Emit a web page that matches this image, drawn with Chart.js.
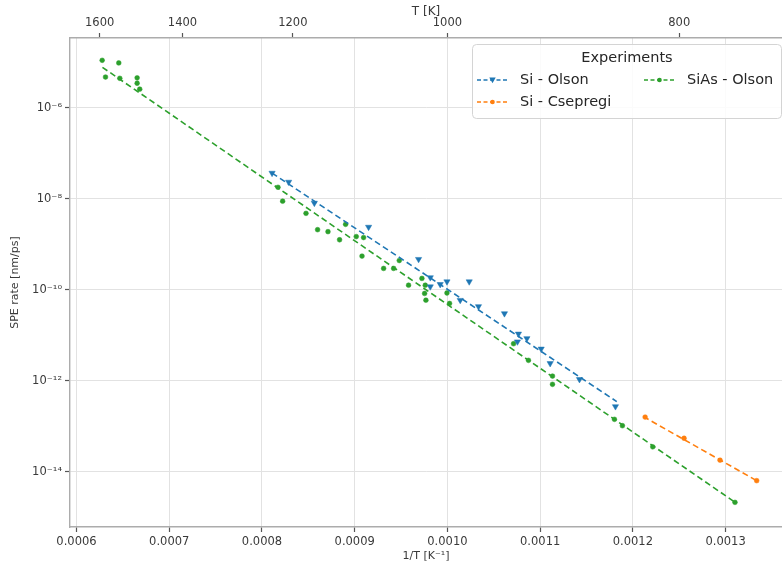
<!DOCTYPE html>
<html>
<head>
<meta charset="utf-8">
<script src="https://cdn.jsdelivr.net/npm/chart.js@4.4.0/dist/chart.umd.min.js"></script>
<style>
  html, body { margin: 0; padding: 0; background: #fff; }
</style>
</head>
<body>
<canvas id="speChart" width="782" height="568"></canvas>
<script>
// Values: x = 1/T [1/K], y = SPE rate [nm/ps]
const siOlsonX = [0.0008109, 0.0008288, 0.0008565, 0.0009150, 0.0009689, 0.0009815, 0.0009815,
                  0.0009922, 0.0009995, 0.0010235, 0.0010138, 0.0010335, 0.0010615, 0.0010766,
                  0.0010857, 0.0010755, 0.0011011, 0.0011108, 0.0011424, 0.0011812];
const siOlsonY = [3.7e-8, 2.35e-8, 8.1e-9, 2.4e-9, 4.7e-10, 1.86e-10, 1.17e-10,
                  1.32e-10, 1.51e-10, 1.51e-10, 5.9e-11, 4.3e-11, 3.0e-11, 1.07e-11,
                  8.5e-12, 7.2e-12, 5.0e-12, 2.4e-12, 1.07e-12, 2.7e-13];

const siCsepregiX = [0.0012132, 0.0012552, 0.0012940, 0.0013335];
const siCsepregiY = [1.58e-13, 5.4e-14, 1.78e-14, 6.3e-15];

const siAsOlsonX = [0.0006277, 0.0006456, 0.0006313, 0.0006467, 0.0006654, 0.0006654, 0.0006682,
                    0.0008173, 0.0008223, 0.0008475, 0.0008600, 0.0008712, 0.0008837, 0.0008902,
                    0.0009017, 0.0009096, 0.0009079, 0.0009312, 0.0009420, 0.0009481, 0.0009581,
                    0.0009725, 0.0009761, 0.0009754, 0.0009768, 0.0009995, 0.0010023, 0.0010713,
                    0.0010874, 0.0011133, 0.0011133, 0.0011801, 0.0011887, 0.0012214, 0.0013101];
const siAsOlsonY = [1.12e-5, 9.8e-6, 4.8e-6, 4.5e-6, 4.6e-6, 3.5e-6, 2.6e-6,
                    1.8e-8, 8.9e-9, 4.8e-9, 2.1e-9, 1.9e-9, 1.26e-9, 2.75e-9,
                    1.48e-9, 1.41e-9, 5.5e-10, 2.95e-10, 2.95e-10, 4.4e-10, 1.26e-10,
                    1.78e-10, 1.26e-10, 8.3e-11, 5.9e-11, 8.5e-11, 5.0e-11, 6.5e-12,
                    2.8e-12, 1.26e-12, 8.3e-13, 1.41e-13, 1.02e-13, 3.5e-14, 2.1e-15];

// Arrhenius fit lines (end points)
const siOlsonFitX = [0.0008109, 0.0011826];
const siOlsonFitY = [3.7e-8, 3.47e-13];
const siCsepregiFitX = [0.0012113, 0.0013335];
const siCsepregiFitY = [1.62e-13, 6.3e-15];
const siAsOlsonFitX = [0.000628, 0.0013112];
const siAsOlsonFitY = [7.85e-6, 2.04e-15];

const bottomTicks = [0.0006, 0.0007, 0.0008, 0.0009, 0.0010, 0.0011, 0.0012, 0.0013];
const topTickTemps = [1600, 1400, 1200, 1000, 800];
const yTickExponents = [-6, -8, -10, -12, -14];

const BLUE = '#1f77b4', ORANGE = '#ff7f0e', GREEN = '#2ca02c';
const X_MIN = 0.000593, X_MAX = 0.0013608;
const Y_MIN = Math.pow(10, -15.22), Y_MAX = Math.pow(10, -4.46);

const SUP = {'-': '\u207B', '0': '\u2070', '1': '\u00B9', '2': '\u00B2', '3': '\u00B3',
             '4': '\u2074', '5': '\u2075', '6': '\u2076', '7': '\u2077', '8': '\u2078', '9': '\u2079'};
const sup = n => String(n).split('').map(c => SUP[c]).join('');
const toPoints = (xs, ys) => xs.map((x, i) => ({x: x, y: ys[i]}));

Chart.defaults.font.family = "'DejaVu Sans', sans-serif";
Chart.defaults.color = '#3a3a3a';

const tickFont = {size: 11.5};
const dash = [6, 3.5];

function scatterSet(label, xs, ys, color, style, radius) {
    return {
        label: label,
        data: toPoints(xs, ys),
        showLine: false,
        pointStyle: style,
        rotation: style === 'triangle' ? 180 : 0,
        pointRadius: radius,
        pointBackgroundColor: color,
        pointBorderColor: color,
        pointBorderWidth: 0.5
    };
}

function fitSet(label, xs, ys, color) {
    return {
        label: label,
        data: toPoints(xs, ys),
        showLine: true,
        borderColor: color,
        borderWidth: 1.6,
        borderDash: dash,
        pointRadius: 0,
        fill: false
    };
}

// Legend drawn in a box, two columns like the original
const legendEntries = [
    {label: 'Si - Olson', color: BLUE, style: 'triangle', col: 0, row: 0},
    {label: 'Si - Csepregi', color: ORANGE, style: 'circle', col: 0, row: 1},
    {label: 'SiAs - Olson', color: GREEN, style: 'circle', col: 1, row: 0}
];

const legendBox = {
    id: 'legendBox',
    afterDraw(chart) {
        const {ctx, chartArea} = chart;
        const w = 310, h = 74;
        const x0 = chartArea.right - w, y0 = chartArea.top + 6;
        ctx.save();
        ctx.fillStyle = 'rgba(255,255,255,0.85)';
        ctx.strokeStyle = '#d4d4d4';
        ctx.lineWidth = 1;
        ctx.beginPath();
        ctx.roundRect(x0 + 0.5, y0 + 0.5, w - 1, h, 4);
        ctx.fill();
        ctx.stroke();

        ctx.fillStyle = '#262626';
        ctx.font = "14.5px 'DejaVu Sans'";
        ctx.textBaseline = 'middle';
        ctx.textAlign = 'center';
        ctx.fillText('Experiments', x0 + 155, y0 + 14);

        ctx.textAlign = 'left';
        legendEntries.forEach(e => {
            const hx = x0 + (e.col === 0 ? 5 : 172);
            const hy = y0 + (e.row === 0 ? 36 : 58);
            ctx.strokeStyle = e.color;
            ctx.lineWidth = 1.3;
            ctx.setLineDash([4, 2.5]);
            ctx.beginPath();
            ctx.moveTo(hx, hy);
            ctx.lineTo(hx + 31, hy);
            ctx.stroke();
            ctx.setLineDash([]);
            ctx.fillStyle = e.color;
            const mx = hx + 15.5;
            ctx.beginPath();
            if (e.style === 'triangle') {
                ctx.moveTo(mx - 3.2, hy - 2.4);
                ctx.lineTo(mx + 3.2, hy - 2.4);
                ctx.lineTo(mx, hy + 3.2);
                ctx.closePath();
            } else {
                ctx.arc(mx, hy, 2.3, 0, Math.PI * 2);
            }
            ctx.fill();
            ctx.fillStyle = '#262626';
            ctx.fillText(e.label, hx + 43, hy);
        });
        ctx.restore();
    }
};

const ctx = document.getElementById('speChart').getContext('2d');
const speChart = new Chart(ctx, {
    type: 'scatter',
    data: {
        datasets: [
            scatterSet('Si - Olson', siOlsonX, siOlsonY, BLUE, 'triangle', 3.6),
            fitSet('Si - Olson fit', siOlsonFitX, siOlsonFitY, BLUE),
            scatterSet('Si - Csepregi', siCsepregiX, siCsepregiY, ORANGE, 'circle', 2.4),
            fitSet('Si - Csepregi fit', siCsepregiFitX, siCsepregiFitY, ORANGE),
            scatterSet('SiAs - Olson', siAsOlsonX, siAsOlsonY, GREEN, 'circle', 2.4),
            fitSet('SiAs - Olson fit', siAsOlsonFitX, siAsOlsonFitY, GREEN)
        ]
    },
    options: {
        responsive: false,
        animation: false,
        layout: {padding: 0, autoPadding: false},
        scales: {
            x: {
                type: 'linear',
                position: 'bottom',
                min: X_MIN,
                max: X_MAX,
                afterBuildTicks: s => { s.ticks = bottomTicks.map(v => ({value: v})); },
                afterFit: s => { s.height = 41; },
                ticks: {
                    callback: v => v.toFixed(4),
                    font: tickFont,
                    padding: 3,
                    maxRotation: 0,
                    autoSkip: false
                },
                grid: {color: '#e2e2e2', lineWidth: 1, tickColor: '#555', tickLength: 5, tickWidth: 1.2},
                border: {color: '#acacac', width: 1.4},
                title: {display: true, text: '1/T [K\u207B\u00B9]', font: {size: 11}, padding: {top: 0, bottom: 5}}
            },
            x2: {
                type: 'linear',
                position: 'top',
                min: X_MIN,
                max: X_MAX,
                afterBuildTicks: s => { s.ticks = topTickTemps.map(t => ({value: 1 / t})); },
                afterFit: s => { s.height = 38; },
                ticks: {
                    callback: v => String(Math.round(1 / v)),
                    font: tickFont,
                    padding: 3,
                    maxRotation: 0,
                    autoSkip: false
                },
                grid: {display: true, drawOnChartArea: false, tickColor: '#555', tickLength: 5, tickWidth: 1.2},
                border: {color: '#acacac', width: 1.4},
                title: {display: true, text: 'T [K]', font: {size: 12}, padding: {top: 5, bottom: 0}}
            },
            y: {
                type: 'logarithmic',
                position: 'left',
                min: Y_MIN,
                max: Y_MAX,
                afterBuildTicks: s => { s.ticks = yTickExponents.map(e => ({value: Math.pow(10, e)})); },
                afterFit: s => { s.width = 70; },
                ticks: {
                    callback: v => '10' + sup(Math.round(Math.log10(v))),
                    font: tickFont,
                    padding: 3,
                    autoSkip: false
                },
                grid: {color: '#e2e2e2', lineWidth: 1, tickColor: '#555', tickLength: 5, tickWidth: 1.2},
                border: {color: '#acacac', width: 1.4},
                title: {display: true, text: 'SPE rate [nm/ps]', font: {size: 11}, padding: {top: 9, bottom: 0}}
            }
        },
        plugins: {
            legend: {display: false},
            tooltip: {enabled: false}
        }
    },
    plugins: [legendBox]
});
</script>
</body>
</html>
